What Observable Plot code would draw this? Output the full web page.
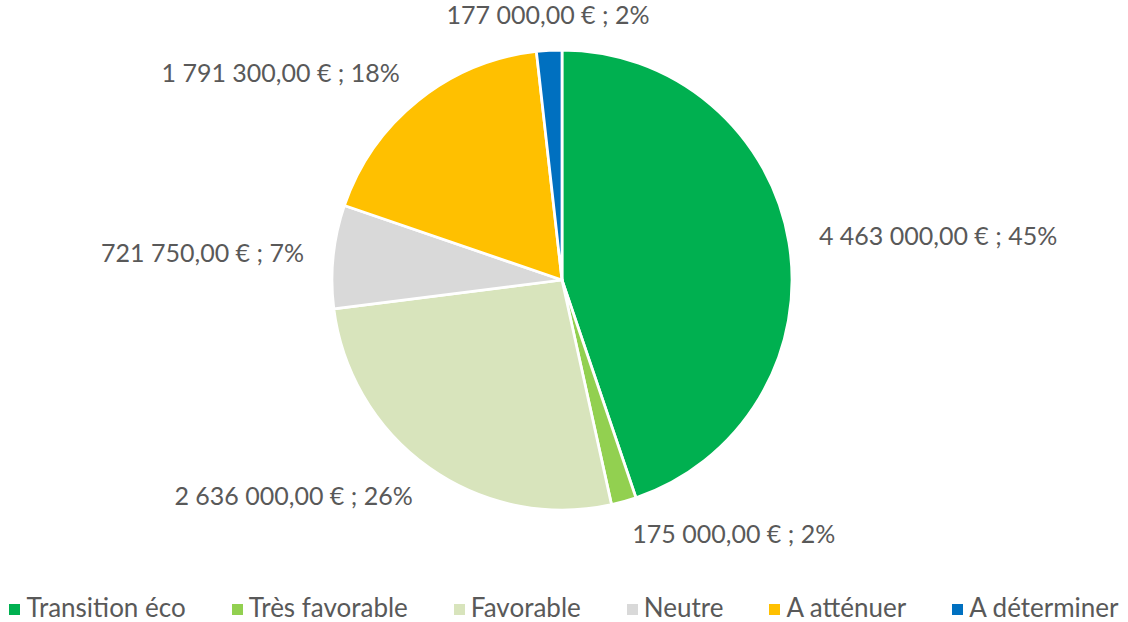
<!DOCTYPE html>
<html><head><meta charset="utf-8">
<script src="https://cdn.jsdelivr.net/npm/d3@7"></script>
<script src="https://cdn.jsdelivr.net/npm/@observablehq/plot@0.6"></script>
<style>
body{margin:0;background:#fff;font-family:Lato,sans-serif;}
#chart svg{display:block}
#legend{display:flex;justify-content:center;align-items:center;gap:46px;height:36px;line-height:1;color:#595959;font-size:26px;font-family:Lato,sans-serif;}
.item{display:flex;align-items:center;gap:6px}
.sw{width:11px;height:11px;display:inline-block;margin-top:4px}
</style></head><body><div id="chart"></div><div id="legend"></div>
<script>
const categories = ["Transition éco","Très favorable","Favorable","Neutre","A atténuer","A déterminer"];
const amounts = [4463000,175000,2636000,721750,1791300,177000];
const colors = ["#00B050","#92D050","#D8E4BC","#D9D9D9","#FFC000","#0070C0"];

const rows = categories.map((c,i)=>({category:c, amount:amounts[i]}));
const total = d3.sum(amounts);
const loc = d3.formatLocale({decimal:",", thousands:" ", grouping:[3], currency:["", " €"]});
const fmt = loc.format(",.2f");
const arcs = d3.pie().sort(null).value(d=>d.amount)(rows);
const color = d3.scaleOrdinal(categories, colors);

const labels = arcs.map(a=>{
  const m = (a.startAngle+a.endAngle)/2;
  const s = Math.sin(m), c = Math.cos(m);
  return {
    x: 1.13*s, y: 1.15*c,
    side: s > 0.2 ? "start" : s < -0.2 ? "end" : "middle",
    text: `${fmt(a.data.amount)} € ; ${Math.round(a.data.amount/total*100)}%`
  };
});

function pieMark(index, scales) {
  const cx = scales.x(0), cy = scales.y(0), r = scales.x(1) - scales.x(0);
  const g = d3.create("svg:g").attr("transform", `translate(${cx},${cy})`);
  const arc = d3.arc().innerRadius(0).outerRadius(r);
  g.selectAll("path").data(arcs).join("path")
    .attr("d", arc)
    .attr("fill", d => color(d.data.category))
    .attr("stroke", "#fff").attr("stroke-width", 2.75).attr("stroke-linejoin","round");
  return g.node();
}

const textOpts = side => Plot.text(labels.filter(d=>d.side===side), {
  x:"x", y:"y", text:"text", textAnchor: side, fill:"#595959",
  fontSize: 25, fontFamily: "Lato, sans-serif"
});

const chart = Plot.plot({
  width: 1128, height: 589,
  margin: 0,
  x: {domain:[-1,1], range:[332,792], axis:null},
  y: {domain:[-1,1], range:[510,50], axis:null},
  style: {background:"#fff", fontFamily:"Lato, sans-serif", overflow:"visible"},
  marks: [pieMark, textOpts("start"), textOpts("end"), textOpts("middle")]
});
document.getElementById("chart").append(chart);

const lg = d3.select("#legend");
const items = lg.selectAll(".item").data(categories).join("div").attr("class","item");
items.append("span").attr("class","sw").style("background", d=>color(d));
items.append("span").text(d=>d);
</script>
</body></html>
